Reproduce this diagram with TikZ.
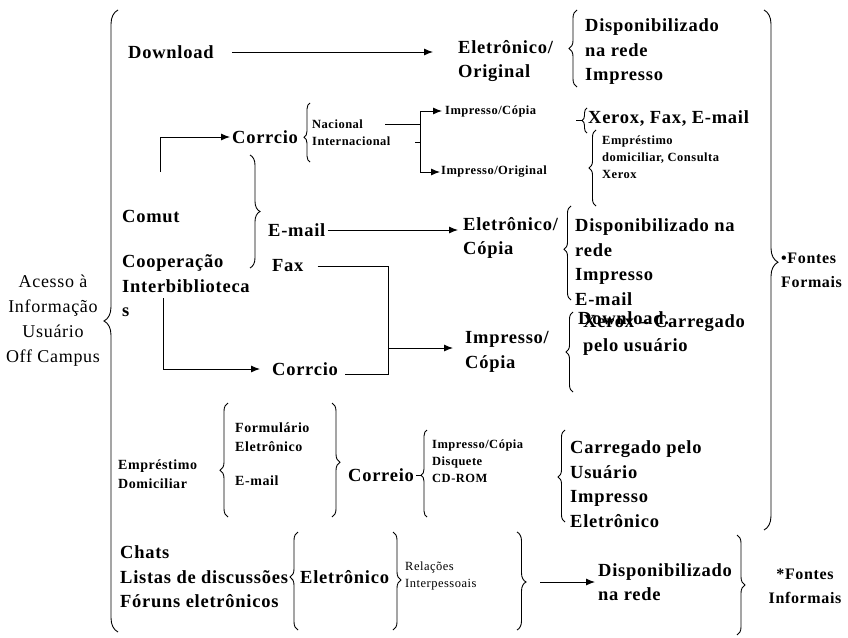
\documentclass[tikz,border=0pt]{standalone}
\usepackage{fontspec}
\setmainfont{Liberation Serif}[LetterSpace=4]
\usetikzlibrary{arrows.meta,decorations.pathreplacing}

\begin{document}
\begin{tikzpicture}[x=1pt, y=-1pt,
    bigtxt/.style={font=\bfseries\fontsize{18.5}{24.5}\selectfont, align=left, anchor=west, inner sep=0pt},
    midtxt/.style={font=\bfseries\fontsize{14}{19}\selectfont, align=left, anchor=west, inner sep=0pt},
    smalltxt/.style={font=\bfseries\fontsize{12.5}{17}\selectfont, align=left, anchor=west, inner sep=0pt},
    sidetxt/.style={font=\bfseries\fontsize{16}{24}\selectfont, align=left, anchor=west, inner sep=0pt},
    arr/.style={-{Latex[length=9pt,width=7pt]}, line width=0.9pt},
    conn/.style={line width=0.9pt},
    brc/.style={decorate, decoration={brace, amplitude=#1}, line width=0.9pt}]
\useasboundingbox (0,0) rectangle (848,637);

% main title on the left
\node[font=\fontsize{18}{25}\selectfont, align=center, inner sep=0pt] (acesso) at (53,321) {Acesso à\\Informação\\Usuário\\Off Campus};

% download row
\node[bigtxt] (download) at (128,52) {Download};
\node[bigtxt] (eletOrig) at (458,61) {Eletrônico/\\Original};
\node[bigtxt] (dispOrig) at (585,52) {Disponibilizado\\na rede\\Impresso};

% comut / cooperacao
\node[bigtxt] (comut) at (122,216) {Comut};
\node[bigtxt] (coop) at (122,286) {Cooperação\\Interbiblioteca\\s};
\node[bigtxt] (corrA) at (232,137) {Corrcio};
\node[smalltxt] (nacional) at (312,133) {Nacional\\Internacional};
\node[smalltxt] (impCopA) at (445,111) {Impresso/Cópia};
\node[smalltxt] (impOrigA) at (441,172) {Impresso/Original};
\node[bigtxt] (xerox) at (588,119) {Xerox, Fax, E-mail};
\node[smalltxt] (emprA) at (602,157) {Empréstimo\\domiciliar, Consulta\\Xerox};
\node[bigtxt] (email) at (268,230) {E-mail};
\node[bigtxt] (eletCop) at (463,238) {Eletrônico/\\Cópia};
\node[bigtxt] (dispCop) at (575,262) {Disponibilizado na\\rede\\Impresso\\E-mail};
\node[bigtxt] (fax) at (272,266) {Fax};
\node[bigtxt] (corrB) at (272,369) {Corrcio};
\node[bigtxt] (impCopB) at (465,352) {Impresso/\\Cópia};
\node[bigtxt] (dlB) at (578,318) {Download.};
\node[bigtxt] (xeroxB) at (583,335) {Xerox – Carregado\\pelo usuário};
\node[sidetxt] (fontesF) at (781,270) {•Fontes\\Formais};

% emprestimo domiciliar
\node[midtxt] (emprB) at (118,474) {Empréstimo\\Domiciliar};
\node[midtxt] (form) at (235,437) {Formulário\\Eletrônico};
\node[midtxt] (emailB) at (235,481) {E-mail};
\node[bigtxt] (correio) at (348,475) {Correio};
\node[smalltxt] (midia) at (432,461) {Impresso/Cópia\\Disquete\\CD-ROM};
\node[bigtxt] (carreg) at (570,484) {Carregado pelo\\Usuário\\Impresso\\Eletrônico};

% fontes informais
\node[bigtxt] (chats) at (120,577) {Chats\\Listas de discussões\\Fóruns eletrônicos};
\node[bigtxt] (eletC) at (300,577) {Eletrônico};
\node[smalltxt, font=\fontsize{12.5}{17}\selectfont] (relac) at (405,576) {Relações\\Interpessoais};
\node[bigtxt] (dispInf) at (598,582) {Disponibilizado\\na rede};
\node[sidetxt, align=center, anchor=center] (fontesI) at (805,586) {*Fontes\\Informais};

% braces
\draw[brc=14pt, decoration={aspect=0.5}] (118,632) -- (118,10);
\draw[brc=14pt, decoration={aspect=0.485}] (764,10) -- (764,530);
\draw[brc=8pt] (577,87) -- (577,10);
\draw[brc=6pt, decoration={aspect=0.42}] (310,162) -- (310,103);
\draw[brc=5pt] (587,133) -- (587,108);
\draw[conn] (576,120.5) -- (582,120.5);
\draw[brc=7pt] (596,206) -- (596,130);
\draw[brc=10pt] (250,155) -- (250,268);
\draw[brc=7pt, decoration={aspect=0.54}] (571,300) -- (571,206);
\draw[brc=7pt] (573,392) -- (573,312);
\draw[brc=8pt, decoration={aspect=0.41}] (228,517) -- (228,403);
\draw[brc=8pt, decoration={aspect=0.52}] (332,403) -- (332,517);
\draw[brc=6pt, decoration={aspect=0.48}] (427,517) -- (427,430);
\draw[conn] (416,475) -- (421,475);
\draw[brc=7pt, decoration={aspect=0.49}] (565,522) -- (565,430);
\draw[brc=8pt, decoration={aspect=0.54}] (298,630) -- (298,532);
\draw[brc=8pt, decoration={aspect=0.49}] (393,532) -- (393,630);
\draw[brc=9pt, decoration={aspect=0.51}] (517,532) -- (517,630);
\draw[brc=8pt] (737,535) -- (737,635);

% connectors
\draw[arr, shorten <=18pt, shorten >=25pt] (download) -- (download -| eletOrig.west);
\coordinate (comutUp) at (160,172);
\draw[arr, shorten >=2pt] (comutUp) |- (corrA.west);
\coordinate (busTop) at (420,111);
\coordinate (busBot) at (420,172);
\coordinate (nacEnd) at (385,124);
\draw[conn] (nacEnd) -- (busTop |- nacEnd);
\draw[conn] (busTop) -- (busBot);
\draw[conn] (415,142) -- (busTop |- 0,142);
\draw[arr, shorten >=3pt] (busTop) -- (impCopA.west);
\draw[arr, shorten >=1pt] (busBot) -- (impOrigA.west);
\draw[arr, shorten <=2pt, shorten >=5pt] (email.east) -- (email -| eletCop.west);
\coordinate (faxJoin) at (388,348);
\draw[conn] ([xshift=14pt]fax.east) -| (faxJoin |- 0,374) -- ([xshift=7pt]corrB.east |- 0,374);
\draw[arr, shorten >=12pt] (faxJoin) -- (faxJoin -| impCopB.west);
\coordinate (interUp) at (163,298);
\draw[arr, shorten >=12pt] (interUp) |- (corrB.west);
\coordinate (relJoin) at (540,582);
\draw[arr, shorten >=3pt] (relJoin) -- (relJoin -| dispInf.west);
\end{tikzpicture}
\end{document}
